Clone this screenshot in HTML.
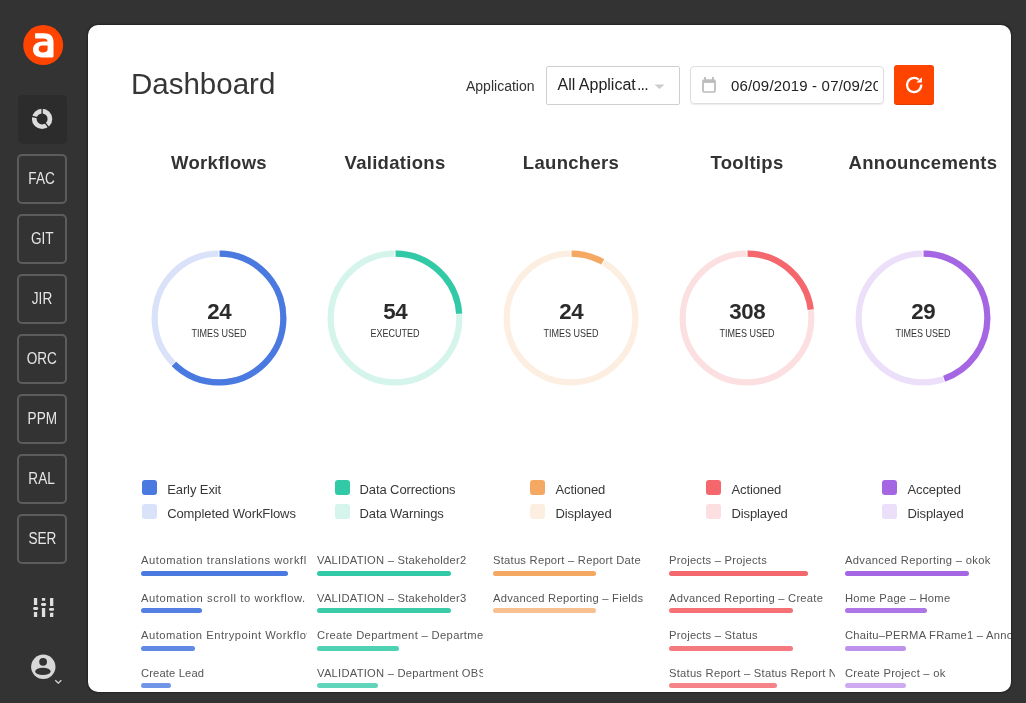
<!DOCTYPE html>
<html><head><meta charset="utf-8">
<style>
*{box-sizing:border-box;margin:0;padding:0}
html,body{width:1026px;height:703px;overflow:hidden;background:#333333;font-family:"Liberation Sans",sans-serif}
.a{position:absolute}
.t{position:absolute;line-height:1;white-space:nowrap}
body>*{will-change:transform}
#panel{position:absolute;left:88px;top:25px;width:923px;height:667px;background:#fff;border-radius:10px;box-shadow:0 0 1.5px 0.3px rgba(0,0,0,0.3);overflow:hidden}
.sb span{display:inline-block;transform:scaleX(0.85)}
.sb{position:absolute;left:17px;width:50px;height:50px;border:2px solid #5c5c5c;border-radius:5px;color:#e6e6e6;font-size:16px;text-align:center;line-height:46px}
.title{position:absolute;width:176px;text-align:center;font-weight:bold;font-size:18.5px;letter-spacing:0.3px;color:#333;line-height:1;top:129px}
.num{position:absolute;width:176px;text-align:center;font-weight:bold;font-size:22.3px;letter-spacing:-0.4px;text-indent:0.4px;color:#2b2b2b;line-height:1;top:276px}
.sub{position:absolute;width:176px;text-align:center;font-size:10.2px;transform:scaleX(0.885);color:#333;line-height:1;top:303.5px}
.ring{position:absolute;top:225px}
.leg{position:absolute;top:455px;width:176px;display:flex;justify-content:center}
.leg .in{display:block}
.li{position:relative;height:24px;font-size:13px;color:#383838;line-height:1;padding-left:25px;white-space:nowrap}
.li i{position:absolute;left:0;top:0;width:15px;height:15px;border-radius:3px}
.li span{display:inline-block;position:relative;top:2.5px;letter-spacing:-0.1px}
.list{position:absolute;top:529px;width:166px;overflow:hidden}
.it{position:relative;height:37.5px}
.it span{position:absolute;left:0;top:0.5px;font-size:11.2px;letter-spacing:0.25px;line-height:1;color:#555;white-space:nowrap}
.it b{position:absolute;left:0;top:16.3px;height:4.9px;border-radius:3px}
</style></head>
<body>
<!-- sidebar -->
<svg class="a" style="left:0;top:0" width="70" height="70" viewBox="0 0 70 70">
<circle cx="43.2" cy="45.1" r="20" fill="#ff4400"/>
<path fill="#fff" fill-rule="evenodd" d="M35.1 33.3 H44.3 C50.3 33.3 53.5 36.3 53.5 42 V56 Q53.5 57.5 52 57.5 H42.5 C36.5 57.5 33 54.5 33 49.6 C33 44.3 37.5 41.7 43 41.6 L47.5 41.6 Q47.5 38.5 43.5 38.4 H35.1 Z M47.6 45.6 H42 C39.8 45.6 38.7 47.2 38.7 49.1 C38.7 51.2 40.2 52.6 42.5 52.6 C45.5 52.6 47.6 51.3 47.6 49.5 Z"/>
</svg>
<div class="a" style="left:17.5px;top:95px;width:49px;height:49px;background:#2c2c2c;border-radius:5px"></div>
<svg class="a" style="left:0;top:80px" width="70" height="70" viewBox="0 80 70 70">
<circle cx="42.1" cy="118.9" r="7.85" fill="none" stroke="#dcdcdc" stroke-width="4.7"/>
<g stroke="#2c2c2c" stroke-width="1.4">
<line x1="42.1" y1="118.9" x2="42.1" y2="106"/>
<line x1="42.1" y1="118.9" x2="29.6" y2="115.8"/>
<line x1="42.1" y1="118.9" x2="49.9" y2="129.2"/>
</g>
</svg>
<div class="sb" style="top:154px"><span>FAC</span></div>
<div class="sb" style="top:214px"><span>GIT</span></div>
<div class="sb" style="top:274px"><span>JIR</span></div>
<div class="sb" style="top:334px"><span>ORC</span></div>
<div class="sb" style="top:394px"><span>PPM</span></div>
<div class="sb" style="top:454px"><span>RAL</span></div>
<div class="sb" style="top:514px"><span>SER</span></div>
<svg class="a" style="left:30px;top:595px" width="26" height="26" viewBox="0 0 26 26" fill="#e0e0e0">
<rect x="3.9" y="2.9" width="3.3" height="7" rx="0.5"/>
<rect x="3.1" y="12" width="5.1" height="2.9" rx="1.4"/>
<rect x="3.9" y="16.9" width="3.3" height="5.1" rx="0.5"/>
<rect x="11.9" y="2.9" width="3.3" height="2.9" rx="0.5"/>
<rect x="11" y="8" width="5.2" height="2.9" rx="1.4"/>
<rect x="11.9" y="12.9" width="3.3" height="9.1" rx="0.5"/>
<rect x="20" y="2.9" width="3.3" height="8" rx="0.5"/>
<rect x="19" y="12.9" width="5.1" height="2.9" rx="1.4"/>
<rect x="20" y="17.7" width="3.3" height="4.3" rx="0.5"/>
</svg>
<svg class="a" style="left:28px;top:652px" width="36" height="36" viewBox="0 0 36 36">
<circle cx="15.3" cy="14.8" r="12.2" fill="#d8d8d8"/>
<circle cx="15.1" cy="9.8" r="3.9" fill="#333"/>
<ellipse cx="14.9" cy="19.4" rx="7.7" ry="3.7" fill="#333"/>
<path d="M27.3 28.3 L30.3 31.2 L33.3 28.3" fill="none" stroke="#d8d8d8" stroke-width="1.3"/>
</svg>

<div id="panel"></div>
<div id="c" style="position:absolute;left:88px;top:25px;width:923px;height:667px;overflow:hidden;border-radius:10px"><div style="position:absolute;left:-88px;top:-25px;width:1026px;height:703px">
<div class="t" style="left:131px;top:69.3px;font-size:29.5px;color:#363636">Dashboard</div>
<div class="t" style="left:466px;top:78.5px;font-size:14px;color:#333">Application</div>
<div class="a" style="left:546px;top:65.5px;width:133.5px;height:39px;border:1px solid #cfcfcf;border-radius:2px"></div>
<div class="t" style="left:557.5px;top:76.8px;font-size:16px;color:#222">All Applicat<span style="letter-spacing:-0.9px;margin-left:1.3px">...</span></div>
<svg class="a" style="left:654px;top:84px" width="12" height="6" viewBox="0 0 12 6"><path d="M0.5 0.5 H10.5 L5.5 5 Z" fill="#cccccc"/></svg>
<div class="a" style="left:690px;top:65.5px;width:193.5px;height:38.5px;border:1px solid #dedede;border-radius:4px;box-shadow:0 1px 1px rgba(0,0,0,0.08)"></div>
<svg class="a" style="left:701px;top:76px" width="17" height="18" viewBox="0 0 17 18"><g fill="#bdbdbd"><rect x="1.1" y="3.2" width="13.8" height="13.5" rx="2"/><rect x="3.1" y="1" width="1.9" height="3"/><rect x="11" y="1" width="1.9" height="3"/></g><rect x="2.9" y="6.9" width="10.2" height="8.3" fill="#fff"/></svg>
<div class="a" style="left:725px;top:70px;width:153px;height:30px;overflow:hidden"><div class="t" style="left:6px;top:8.2px;font-size:15px;color:#222;letter-spacing:0.17px">06/09/2019 - 07/09/2019</div></div>
<div class="a" style="left:894px;top:65px;width:40px;height:40px;background:#ff4400;border-radius:3px;box-shadow:inset 0 -1px 0 rgba(0,0,0,0.12)"></div>
<svg class="a" style="left:894px;top:65px" width="40" height="40" viewBox="0 0 40 40"><path d="M27.2 19.6 A7.1 7.1 0 1 1 24.7 14.6" fill="none" stroke="#fff" stroke-width="2.3"/><path d="M27.9 12.2 V17.6 H22.5 Z" fill="#fff"/></svg>
<div class="title" style="left:131px;top:153.8px">Workflows</div>
<svg class="a" style="left:149px;top:247.85000000000002px" width="140" height="140" viewBox="0 0 140 140"><circle cx="70" cy="70" r="64.35" fill="none" stroke="#d9e2f8" stroke-width="6.2"/><circle cx="70" cy="70" r="64.35" fill="none" stroke="#4a79e0" stroke-width="6.2" stroke-dasharray="252.70 404.32" transform="rotate(-90 70 70)"/><g stroke="#fff" stroke-width="1.1"><line x1="70" y1="0.6500000000000057" x2="70" y2="10.650000000000006"/><line x1="20.96" y1="119.04" x2="28.03" y2="111.97"/></g></svg>
<div class="num" style="left:131px;top:301.2px">24</div>
<div class="sub" style="left:131px;top:328.5px">TIMES USED</div>
<div class="leg" style="left:131px;top:480px"><div class="in"><div class="li"><i style="background:#4a79e0"></i><span>Early Exit</span></div><div class="li"><i style="background:#d9e2f8"></i><span>Completed WorkFlows</span></div></div></div>
<div class="list" style="left:141px;top:554.5px">
<div class="it"><span style="letter-spacing:0.55px">Automation translations workflow</span><b style="width:147px;background:#4a79e0;opacity:1"></b></div>
<div class="it"><span style="letter-spacing:0.58px">Automation scroll to workflow.</span><b style="width:61px;background:#4a79e0;opacity:0.95"></b></div>
<div class="it"><span style="letter-spacing:0.5px">Automation Entrypoint Workflow</span><b style="width:54px;background:#4a79e0;opacity:0.87"></b></div>
<div class="it"><span style="letter-spacing:0.15px">Create Lead</span><b style="width:30px;background:#4a79e0;opacity:0.78"></b></div>
</div>
<div class="title" style="left:307px;top:153.8px">Validations</div>
<svg class="a" style="left:325px;top:247.85000000000002px" width="140" height="140" viewBox="0 0 140 140"><circle cx="70" cy="70" r="64.35" fill="none" stroke="#d5f4ec" stroke-width="6.2"/><circle cx="70" cy="70" r="64.35" fill="none" stroke="#32c9a6" stroke-width="6.2" stroke-dasharray="97.34 404.32" transform="rotate(-90 70 70)"/><g stroke="#fff" stroke-width="1.1"><line x1="70" y1="0.6500000000000057" x2="70" y2="10.650000000000006"/><line x1="139.23" y1="65.97" x2="129.25" y2="66.55"/></g></svg>
<div class="num" style="left:307px;top:301.2px">54</div>
<div class="sub" style="left:307px;top:328.5px">EXECUTED</div>
<div class="leg" style="left:307px;top:480px"><div class="in"><div class="li"><i style="background:#32c9a6"></i><span>Data Corrections</span></div><div class="li"><i style="background:#d5f4ec"></i><span>Data Warnings</span></div></div></div>
<div class="list" style="left:317px;top:554.5px">
<div class="it"><span>VALIDATION – Stakeholder2</span><b style="width:134px;background:#32c9a6;opacity:1"></b></div>
<div class="it"><span>VALIDATION – Stakeholder3</span><b style="width:134px;background:#32c9a6;opacity:0.96"></b></div>
<div class="it"><span style="letter-spacing:0.35px">Create Department – Department</span><b style="width:82px;background:#32c9a6;opacity:0.86"></b></div>
<div class="it"><span>VALIDATION – Department OBS</span><b style="width:61px;background:#32c9a6;opacity:0.77"></b></div>
</div>
<div class="title" style="left:483px;top:153.8px">Launchers</div>
<svg class="a" style="left:501px;top:247.85000000000002px" width="140" height="140" viewBox="0 0 140 140"><circle cx="70" cy="70" r="64.35" fill="none" stroke="#fdeee2" stroke-width="6.2"/><circle cx="70" cy="70" r="64.35" fill="none" stroke="#f5a862" stroke-width="6.2" stroke-dasharray="33.69 404.32" transform="rotate(-90 70 70)"/><g stroke="#fff" stroke-width="1.1"><line x1="70" y1="0.6500000000000057" x2="70" y2="10.650000000000006"/><line x1="104.67" y1="9.94" x2="99.67" y2="18.60"/></g></svg>
<div class="num" style="left:483px;top:301.2px">24</div>
<div class="sub" style="left:483px;top:328.5px">TIMES USED</div>
<div class="leg" style="left:483px;top:480px"><div class="in"><div class="li"><i style="background:#f5a862"></i><span>Actioned</span></div><div class="li"><i style="background:#fdeee2"></i><span>Displayed</span></div></div></div>
<div class="list" style="left:493px;top:554.5px">
<div class="it"><span>Status Report – Report Date</span><b style="width:103px;background:#f5a862;opacity:1"></b></div>
<div class="it"><span>Advanced Reporting – Fields</span><b style="width:103px;background:#f5a862;opacity:0.72"></b></div>
</div>
<div class="title" style="left:659px;top:153.8px">Tooltips</div>
<svg class="a" style="left:677px;top:247.85000000000002px" width="140" height="140" viewBox="0 0 140 140"><circle cx="70" cy="70" r="64.35" fill="none" stroke="#fce0e1" stroke-width="6.2"/><circle cx="70" cy="70" r="64.35" fill="none" stroke="#f4686d" stroke-width="6.2" stroke-dasharray="93.20 404.32" transform="rotate(-90 70 70)"/><g stroke="#fff" stroke-width="1.1"><line x1="70" y1="0.6500000000000057" x2="70" y2="10.650000000000006"/><line x1="138.83" y1="61.53" x2="128.91" y2="62.75"/></g></svg>
<div class="num" style="left:659px;top:301.2px">308</div>
<div class="sub" style="left:659px;top:328.5px">TIMES USED</div>
<div class="leg" style="left:659px;top:480px"><div class="in"><div class="li"><i style="background:#f4686d"></i><span>Actioned</span></div><div class="li"><i style="background:#fce0e1"></i><span>Displayed</span></div></div></div>
<div class="list" style="left:669px;top:554.5px">
<div class="it"><span>Projects – Projects</span><b style="width:139px;background:#f4686d;opacity:1"></b></div>
<div class="it"><span>Advanced Reporting – Create</span><b style="width:124px;background:#f4686d;opacity:0.94"></b></div>
<div class="it"><span>Projects – Status</span><b style="width:124px;background:#f4686d;opacity:0.88"></b></div>
<div class="it"><span>Status Report – Status Report Name</span><b style="width:108px;background:#f4686d;opacity:0.82"></b></div>
</div>
<div class="title" style="left:835px;top:153.8px">Announcements</div>
<svg class="a" style="left:853px;top:247.85000000000002px" width="140" height="140" viewBox="0 0 140 140"><circle cx="70" cy="70" r="64.35" fill="none" stroke="#ecdffa" stroke-width="6.2"/><circle cx="70" cy="70" r="64.35" fill="none" stroke="#a566e3" stroke-width="6.2" stroke-dasharray="181.25 404.32" transform="rotate(-90 70 70)"/><g stroke="#fff" stroke-width="1.1"><line x1="70" y1="0.6500000000000057" x2="70" y2="10.650000000000006"/><line x1="92.14" y1="135.72" x2="88.95" y2="126.24"/></g></svg>
<div class="num" style="left:835px;top:301.2px">29</div>
<div class="sub" style="left:835px;top:328.5px">TIMES USED</div>
<div class="leg" style="left:835px;top:480px"><div class="in"><div class="li"><i style="background:#a566e3"></i><span>Accepted</span></div><div class="li"><i style="background:#ecdffa"></i><span>Displayed</span></div></div></div>
<div class="list" style="left:845px;top:554.5px">
<div class="it"><span style="letter-spacing:0.33px">Advanced Reporting – okok</span><b style="width:124px;background:#a566e3;opacity:1"></b></div>
<div class="it"><span>Home Page – Home</span><b style="width:82px;background:#a566e3;opacity:0.9"></b></div>
<div class="it"><span>Chaitu–PERMA FRame1 – Announcement</span><b style="width:61px;background:#a566e3;opacity:0.72"></b></div>
<div class="it"><span>Create Project – ok</span><b style="width:61px;background:#a566e3;opacity:0.55"></b></div>
</div>
</div></div>
</body></html>
